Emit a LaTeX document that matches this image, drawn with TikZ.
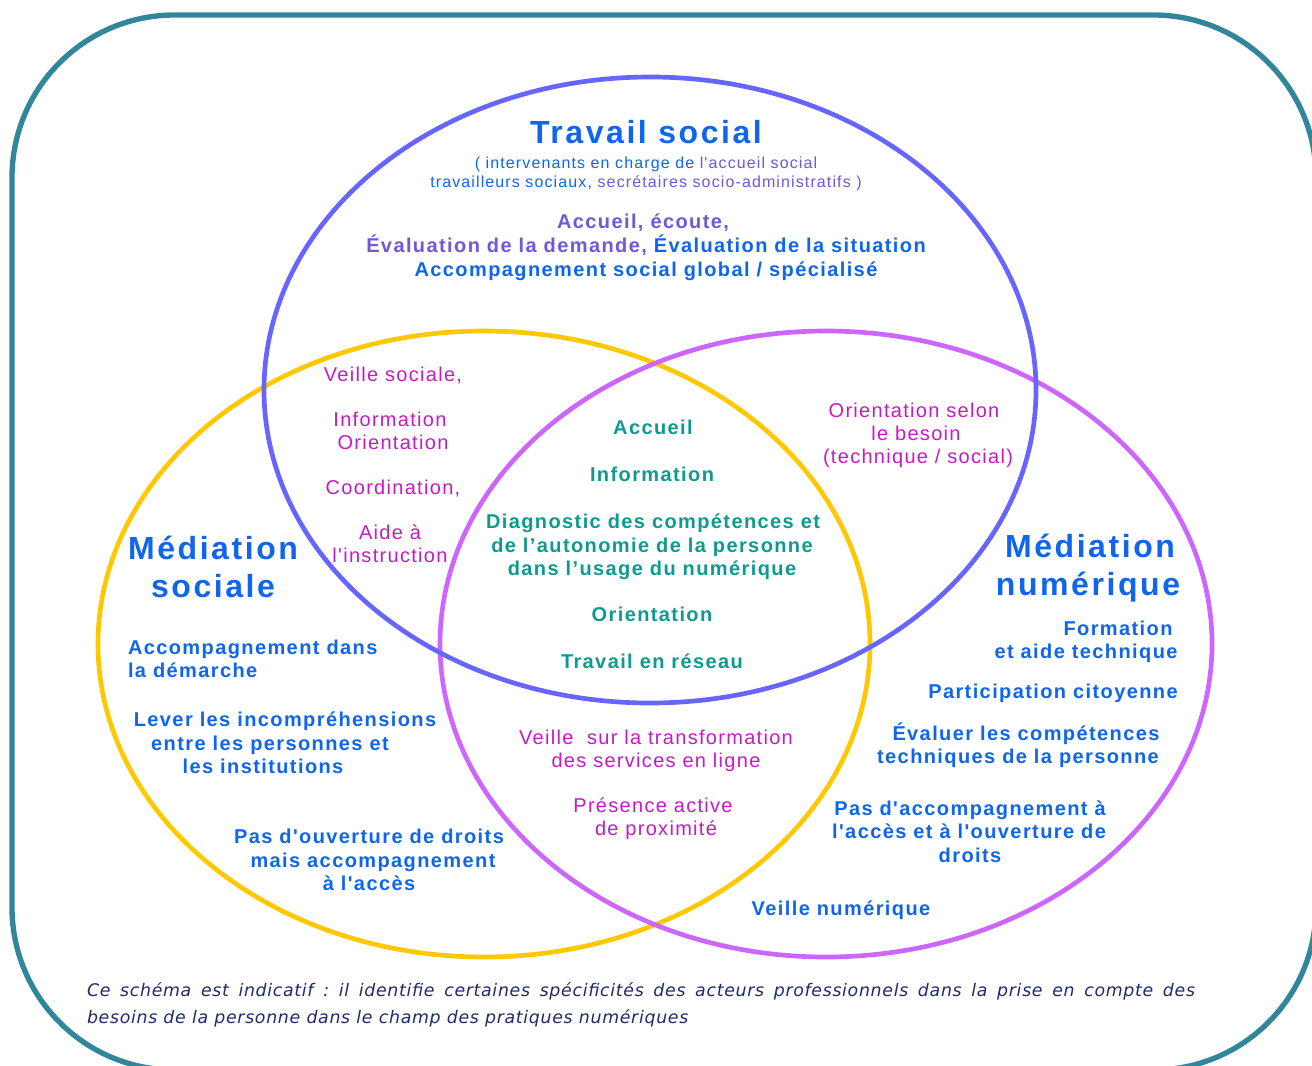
\documentclass[tikz,border=0pt]{standalone}
\usepackage{fontspec}
\setmainfont{Liberation Sans}
\newfontfamily\lsA[LetterSpace=7,Ligatures=TeXOff]{Liberation Sans}
\newfontfamily\lsR[LetterSpace=6.5,Ligatures=TeXOff]{Liberation Sans}
\newfontfamily\lsB[LetterSpace=8,Ligatures=TeXOff]{Liberation Sans}
\newfontfamily\footfnt[LetterSpace=4]{DejaVu Sans}
\usetikzlibrary{shapes.geometric}
\definecolor{frameC}{HTML}{31869B}
\definecolor{ellB}{HTML}{6666FF}
\definecolor{ellY}{HTML}{FFC800}
\definecolor{ellP}{HTML}{CC66FF}
\definecolor{tblue}{HTML}{0F66EA}
\definecolor{tviolet}{HTML}{7058D8}
\definecolor{tmag}{HTML}{C41CC4}
\definecolor{tteal}{HTML}{0E9A90}
\definecolor{tnavy}{HTML}{1F2A6B}
\begin{document}
\frenchspacing
\begin{tikzpicture}[x=0.75pt,y=-0.75pt,
  lbl/.style={anchor=mid, inner sep=0pt, outer sep=0pt},
  bigt/.style={lbl, font=\lsB\bfseries\fontsize{24pt}{28pt}\selectfont, text=tblue},
  subt/.style={lbl, font=\lsA\fontsize{12pt}{14pt}\selectfont},
  bodyb/.style={lbl, font=\lsA\bfseries\fontsize{15pt}{18pt}\selectfont},
  bodyr/.style={lbl, font=\lsR\fontsize{15pt}{18pt}\selectfont, text=tmag},
  footn/.style={lbl, anchor=mid west, text=tnavy, font=\footfnt\itshape\fontsize{13pt}{15pt}\selectfont},
  venn/.style={ellipse, draw, line width=3.5pt, inner sep=0pt, minimum width=579pt, minimum height=469.5pt},
]
\useasboundingbox (0,0) rectangle (1312,1066);
\clip (0,0) rectangle (1312,1066);
\fill[white] (0,0) rectangle (1312,1066);
% frame
\draw[frameC, line width=4pt, rounded corners=122pt] (12,15) rectangle (1316,1070);
% circles
\node[venn, draw=ellY] (ms) at (484,644) {};
\node[venn, draw=ellP] (mn) at (826,644) {};
\node[venn, draw=ellB] (ts) at (650,390) {};
% Travail social
\node[bigt] (ts1) at (646,140) {Travail social};
\node[subt] (ts2) at (646,165) {\textcolor{tblue}{( intervenants en charge de} \textcolor{tviolet}{l'accueil social}};
\node[subt] (ts3) at (646,184) {\textcolor{tblue}{travailleurs sociaux,} \textcolor{tviolet}{secrétaires socio-administratifs )}};
\node[bodyb, text=tviolet] (ts4) at (643,225) {Accueil, écoute,};
\node[bodyb] (ts5) at (646,249) {\textcolor{tviolet}{Évaluation de la demande,} \textcolor{tblue}{Évaluation de la situation}};
\node[bodyb, text=tblue] (ts6) at (646,273) {Accompagnement social global / spécialisé};
% magenta left (TS ∩ MS)
\node[bodyr] (a1) at (393,378) {Veille sociale,};
\node[bodyr] (a2) at (390,423) {Information};
\node[bodyr] (a3) at (393,446) {Orientation};
\node[bodyr] (a4) at (393,491) {Coordination,};
\node[bodyr] (a5) at (390,536) {Aide à};
\node[bodyr] (a6) at (390,559) {l'instruction};
% teal centre
\node[bodyb, text=tteal] (c1) at (653,431) {Accueil};
\node[bodyb, text=tteal] (c2) at (652,478) {Information};
\node[bodyb, text=tteal] (c3) at (653,525) {Diagnostic des compétences et};
\node[bodyb, text=tteal] (c4) at (652,549) {de l’autonomie de la personne};
\node[bodyb, text=tteal] (c5) at (652,572) {dans l’usage du numérique};
\node[bodyb, text=tteal] (c6) at (652,618) {Orientation};
\node[bodyb, text=tteal] (c7) at (652,665) {Travail en réseau};
% magenta right (TS ∩ MN)
\node[bodyr] (b1) at (914,414) {Orientation selon};
\node[bodyr] (b2) at (916,437) {le besoin};
\node[bodyr] (b3) at (918,460) {(technique / social)};
% titles
\node[bigt] (msT1) at (213,556) {Médiation};
\node[bigt] (msT2) at (213,594) {sociale};
\node[bigt] (mnT1) at (1090,554) {Médiation};
\node[bigt] (mnT2) at (1088,592) {numérique};
% right blue
\node[bodyb, text=tblue] (r1) at (1118,632) {Formation};
\node[bodyb, text=tblue] (r2) at (1086,655) {et aide technique};
\node[bodyb, text=tblue] (r3) at (1053,695) {Participation citoyenne};
\node[bodyb, text=tblue] (r4) at (1026,737) {Évaluer les compétences};
\node[bodyb, text=tblue] (r5) at (1018,760) {techniques de la personne};
\node[bodyb, text=tblue] (r6) at (970,812) {Pas d'accompagnement à};
\node[bodyb, text=tblue] (r7) at (969,835) {l'accès et à l'ouverture de};
\node[bodyb, text=tblue] (r8) at (970,859) {droits};
\node[bodyb, text=tblue] (r9) at (841,912) {Veille numérique};
% left blue
\node[bodyb, text=tblue, anchor=mid west] (l1) at (128,651) {Accompagnement dans};
\node[bodyb, text=tblue, anchor=mid west] (l2) at (128,674) {la démarche};
\node[bodyb, text=tblue] (l3) at (285,723) {Lever les incompréhensions};
\node[bodyb, text=tblue] (l4) at (270,747) {entre les personnes et};
\node[bodyb, text=tblue] (l5) at (263,770) {les institutions};
\node[bodyb, text=tblue] (l6) at (369,840) {Pas d'ouverture de droits};
\node[bodyb, text=tblue] (l7) at (373,864) {mais accompagnement};
\node[bodyb, text=tblue] (l8) at (369,887) {à l'accès};
% bottom magenta (MS ∩ MN)
\node[bodyr] (m1) at (656,741) {Veille \ sur la transformation};
\node[bodyr] (m2) at (656,764) {des services en ligne};
\node[bodyr] (m3) at (653,809) {Présence active};
\node[bodyr] (m4) at (656,832) {de proximité};
% footnote
\node[footn] (f1) at (87,993)
  {\makebox[831pt][s]{Ce schéma est indicatif : il identifie certaines spécificités des acteurs professionnels dans la prise en compte des}};
\node[footn] (f2) at (87,1020)
  {besoins de la personne dans le champ des pratiques numériques};
\end{tikzpicture}
\end{document}
